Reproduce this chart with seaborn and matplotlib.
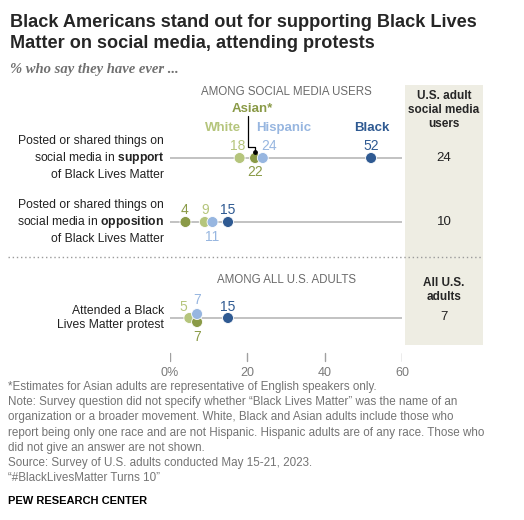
import matplotlib
matplotlib.use("Agg")
import matplotlib.pyplot as plt
from matplotlib.transforms import Affine2D
from matplotlib.patches import Rectangle
import seaborn as sns
import pandas as pd

# ---- data ----
groups = ["White", "Asian", "Hispanic", "Black"]
group_colors = ["#b5c57c", "#8a9a47", "#97b6e0", "#2f5a92"]
row_labels = [
    "Posted or shared things on\nsocial media in $\\bf{support}$\nof Black Lives Matter",
    "Posted or shared things on\nsocial media in $\\bf{opposition}$\nof Black Lives Matter",
    "Attended a Black\nLives Matter protest",
]
support = [18, 22, 24, 52]
opposition = [9, 4, 11, 15]
protest = [5, 7, 7, 15]
overall = [24, 10, 7]
ticks = [0, 20, 40, 60]
tick_labels = ["0%", "20", "40", "60"]

title = "Black Americans stand out for supporting Black Lives\nMatter on social media, attending protests"
subtitle = "% who say they have ever ..."
notes = [
    "*Estimates for Asian adults are representative of English speakers only.",
    "Note: Survey question did not specify whether \u201cBlack Lives Matter\u201d was the name of an",
    "organization or a broader movement. White, Black and Asian adults include those who",
    "report being only one race and are not Hispanic. Hispanic adults are of any race. Those who",
    "did not give an answer are not shown.",
    "Source: Survey of U.S. adults conducted May 15-21, 2023.",
    "\u201c#BlackLivesMatter Turns 10\u201d",
]

# ---- layout (pixels from top-left) ----
W, H = 524, 520
row_y = [158, 222, 318]
# vertical nudges (px, up is positive) for overlapping dots in row 3
nudge = [[0, 0, 0, 0], [0, 0, 0, 0], [0, -4, 4, 0]]
# value label placement: (dx px, dy px) relative to the dot
lab_pos = [
    [(-2, -12), (0, 14), (6, -12), (0, -12)],
    [(0, -12), (-1, -12), (0, 15), (0, -12)],
    [(-6, -11), (0, 15), (0, -14), (0, -11)],
]

sns.set_theme(style="white")
plt.rcParams["font.family"] = ["Liberation Sans", "DejaVu Sans"]
plt.rcParams["mathtext.fontset"] = "custom"
plt.rcParams["mathtext.rm"] = "Liberation Sans"
plt.rcParams["mathtext.bf"] = "Liberation Sans:bold"

fig = plt.figure(figsize=(W / 100, H / 100), dpi=100)
px = Affine2D().scale(1 / W, -1 / H).translate(0, 1) + fig.transFigure

x0, x1 = 170, 402
ax = fig.add_axes([x0 / W, 0, (x1 - x0) / W, 1])
ax.set_xlim(0, 60)
ax.set_ylim(H, 0)
ax.axis("off")

# shaded panel
fig.patches.append(Rectangle((405, 85), 78, 260, transform=px,
                             facecolor="#eeede3", edgecolor="none", zorder=0))

# row guide lines
for y in row_y:
    ax.plot([0, 60], [y, y], color="#bdbdbd", lw=1.3, zorder=1, solid_capstyle="butt")

# dots
series = [support, opposition, protest]
recs = []
for r, vals in enumerate(series):
    for g, v in enumerate(vals):
        recs.append({"value": v, "y": row_y[r] - nudge[r][g], "group": groups[g]})
df = pd.DataFrame(recs)
sns.scatterplot(data=df, x="value", y="y", hue="group", hue_order=groups,
                palette=group_colors, s=62, edgecolor="white", linewidth=0.6,
                legend=False, ax=ax, zorder=3)

# value labels
pt = 3.867  # px per percentage point
for r, vals in enumerate(series):
    for g, v in enumerate(vals):
        dx, dy = lab_pos[r][g]
        ax.text(v + dx / pt, row_y[r] - nudge[r][g] + dy, str(v), ha="center", va="center",
                color=group_colors[g], fontsize=10)

# group names above first row
ax.text(13.7, 128, "White", ha="center", va="center", color=group_colors[0],
        fontsize=9.5, fontweight="bold")
ax.text(22.4, 128, "Hispanic", ha="left", va="center", color=group_colors[2],
        fontsize=9.5, fontweight="bold")
ax.text(52.2, 128, "Black", ha="center", va="center", color=group_colors[3],
        fontsize=9.5, fontweight="bold")
ax.text(21.2, 109, "Asian*", ha="center", va="center", color=group_colors[1],
        fontsize=9.5, fontweight="bold")
lx = 20.3
ax.plot([lx, lx, support[1], support[1]], [116, 147, 147, 152], color="black", lw=0.9, zorder=4)
ax.scatter([support[1]], [152], s=6, color="black", zorder=5)

# ticks
for t, tl in zip(ticks, tick_labels):
    ax.plot([t, t], [353, 361], color="#a0a0a0", lw=1)
    ax.text(t, 373, tl, ha="center", va="center", color="#7a7a7a", fontsize=9)

# section headings
ax.text(30.2, 92, "AMONG SOCIAL MEDIA USERS", ha="center", va="center",
        color="#6a6a6a", fontsize=8.3)
ax.text(30.2, 280, "AMONG ALL U.S. ADULTS", ha="center", va="center",
        color="#6a6a6a", fontsize=8.3)

# row labels
for lab, y in zip(row_labels, row_y):
    fig.text(164, y, lab, transform=px, ha="right", va="center", fontsize=8.7,
             color="#222222", linespacing=1.3)

# right panel text
fig.text(444, 110, "U.S. adult\nsocial media\nusers", transform=px, ha="center",
         va="center", fontsize=8.5, fontweight="bold", linespacing=1.25)
fig.text(444, 290, "All U.S.\nadults", transform=px, ha="center", va="center",
         fontsize=8.5, fontweight="bold", linespacing=1.25)
for v, y in zip(overall, [158, 222, 317]):
    fig.text(444, y, str(v), transform=px, ha="center", va="center", fontsize=9.5,
             color="#222222")

# dotted separator
fig.lines.append(plt.Line2D([8, 483], [257, 257], transform=px, color="#9a9a9a",
                            lw=1, linestyle=(0, (1, 2))))

# title and subtitle
fig.text(10, 33, title, transform=px, ha="left", va="center", fontsize=13.1,
         fontweight="bold", linespacing=1.3)
fig.text(10, 70, subtitle, transform=px, ha="left", va="center", fontsize=10.5,
         style="italic", fontweight="bold", color="#707070",
         family=["Liberation Serif", "DejaVu Serif"])

# notes
for i, line in enumerate(notes):
    fig.text(8, 387 + i * 15.2, line, transform=px, ha="left", va="center",
             fontsize=8.35, color="#747474")
fig.text(8, 501, "PEW RESEARCH CENTER", transform=px, ha="left", va="center",
         fontsize=8, fontweight="bold", color="black")

fig.savefig("out.png", dpi=100)
